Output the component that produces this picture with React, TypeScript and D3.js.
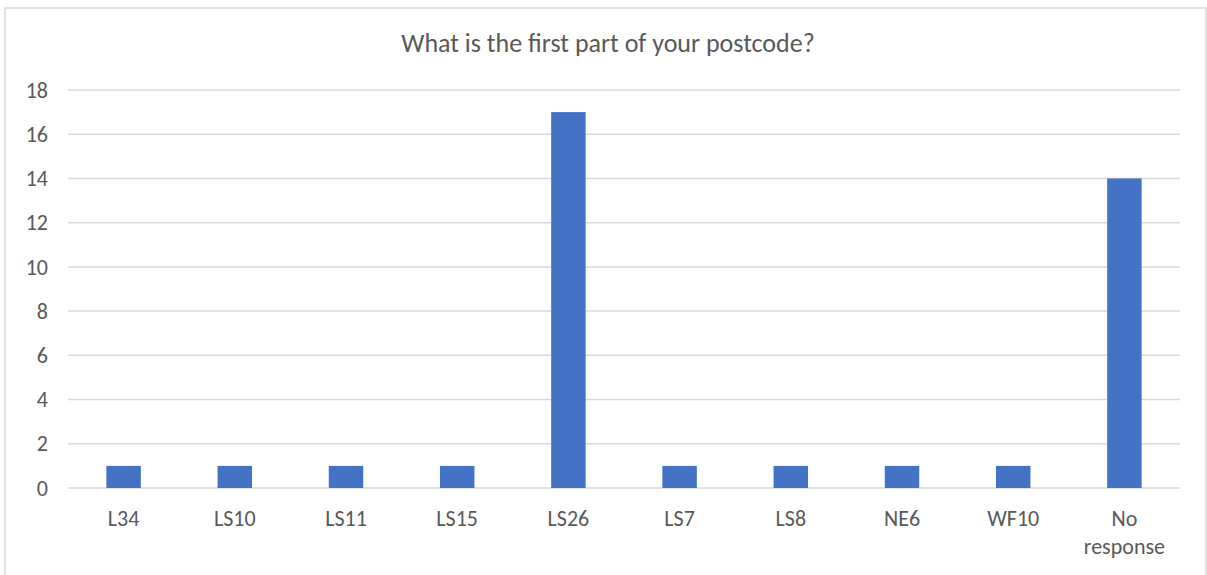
import React from "react";
import * as d3 from "d3";

const categories = ["L34", "LS10", "LS11", "LS15", "LS26", "LS7", "LS8", "NE6", "WF10", "No response"];
const values = [1, 1, 1, 1, 17, 1, 1, 1, 1, 14];
const yTicks = [0, 2, 4, 6, 8, 10, 12, 14, 16, 18];
const title = "What is the first part of your postcode?";

const W = 1207;
const H = 575;
const left = 68;
const right = 1180;
const top = 90;
const bottom = 488;
const font = "Calibri, Carlito, 'Open Sans', 'Noto Sans', sans-serif";
const textColor = "#595959";

export default function App() {
  const x = d3.scaleBand<string>().domain(categories).range([left, right]).paddingInner(0.69).paddingOuter(0.345);
  const y = d3.scaleLinear().domain([0, 18]).range([bottom, top]);
  return (
    <svg width={W} height={H} style={{ position: "absolute", left: 0, top: 0 }} fontFamily={font}>
      <rect x={0} y={0} width={W} height={H} fill="#fff" />
      <rect x={5} y={8} width={1201} height={600} fill="#fff" stroke="#d9d9d9" strokeWidth={1.5} />
      <text x={608} y={52} textAnchor="middle" fontSize={26} fill={textColor}>{title}</text>
      {yTicks.map((t) => (
        <g key={t}>
          <line x1={left} x2={right} y1={y(t)} y2={y(t)} stroke="#d9d9d9" strokeWidth={1.5} />
          <text x={48} y={y(t)} dy="0.35em" textAnchor="end" fontSize={22} fill={textColor}>{t}</text>
        </g>
      ))}
      {categories.map((c, i) => (
        <rect key={c} x={x(c)} y={y(values[i])} width={x.bandwidth()} height={y(0) - y(values[i])} fill="#4472c4" />
      ))}
      {categories.map((c) => {
        const cx = (x(c) as number) + x.bandwidth() / 2;
        const words = c === "No response" ? ["No", "response"] : [c];
        return (
          <text key={c} x={cx} y={526} textAnchor="middle" fontSize={22} fill={textColor}>
            {words.map((w, j) => (
              <tspan key={j} x={cx} dy={j === 0 ? 0 : 28}>{w}</tspan>
            ))}
          </text>
        );
      })}
    </svg>
  );
}
